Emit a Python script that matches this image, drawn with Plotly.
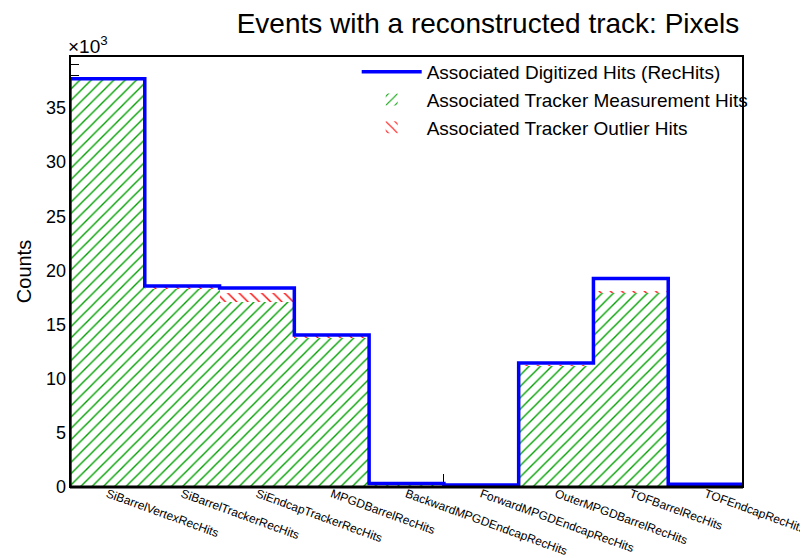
import plotly.graph_objects as go

# ---- data ----
categories = [
    "SiBarrelVertexRecHits",
    "SiBarrelTrackerRecHits",
    "SiEndcapTrackerRecHits",
    "MPGDBarrelRecHits",
    "BackwardMPGDEndcapRecHits",
    "ForwardMPGDEndcapRecHits",
    "OuterMPGDBarrelRecHits",
    "TOFBarrelRecHits",
    "TOFEndcapRecHits",
]
digitized_hits = [37700, 18560, 18370, 14030, 320, 180, 11450, 19250, 250]
measurement_hits = [37600, 18300, 17080, 13800, 250, 120, 11200, 18000, 0]
outlier_hits = [50, 100, 830, 100, 0, 0, 20, 50, 0]
y_tick_values = [0, 5000, 10000, 15000, 20000, 25000, 30000, 35000]
y_tick_labels = ["0", "5", "10", "15", "20", "25", "30", "35"]

FONT = "Liberation Sans, Arial, Helvetica, sans-serif"
BLUE = "#0000ff"
GREEN = "#00a000"
RED = "#ff0000"

n = len(categories)
centers = list(range(n))
edges = [i - 0.5 for i in range(n + 1)]

# step outline of the digitized-hits histogram
step_x = [edges[0]] + edges[:-1] + [edges[-1]]
step_y = [0] + digitized_hits + [0]

fig = go.Figure()

fig.add_trace(go.Bar(
    x=centers, y=measurement_hits, width=1.0,
    name="Associated Tracker Measurement Hits",
    marker=dict(color="white", line=dict(width=0),
                pattern=dict(shape="/", fgcolor=GREEN, bgcolor="white",
                             size=8, solidity=0.17, fillmode="replace")),
    legendrank=2,
))
fig.add_trace(go.Bar(
    x=centers, y=outlier_hits, width=1.0,
    name="Associated Tracker Outlier Hits",
    marker=dict(color="white", line=dict(width=0),
                pattern=dict(shape="\\", fgcolor=RED, bgcolor="white",
                             size=8, solidity=0.17, fillmode="replace")),
    legendrank=3,
))
fig.add_trace(go.Scatter(
    x=step_x, y=step_y, mode="lines", line_shape="hv",
    line=dict(color=BLUE, width=3.5),
    name="Associated Digitized Hits (RecHits)",
    legendrank=1,
))

# the page body adds an 8px offset; margins compensate for it
fig.update_layout(
    width=808, height=558,
    margin=dict(l=62, r=73, t=48, b=79, autoexpand=False),
    paper_bgcolor="white", plot_bgcolor="white",
    barmode="stack", bargap=0,
    font=dict(family=FONT, color="black", size=18),
    title=dict(text="Events with a reconstructed track: Pixels",
               x=480 / 808, xanchor="center", xref="container",
               y=1 - 15 / 558, yanchor="middle", yref="container",
               font=dict(size=28, family=FONT, color="black")),
    legend=dict(x=0.426, xanchor="left", y=1.007, yanchor="top",
                bgcolor="rgba(0,0,0,0)", borderwidth=0,
                traceorder="normal", itemwidth=60,
                font=dict(size=19, family=FONT, color="black")),
    showlegend=True,
)

fig.update_xaxes(
    range=[edges[0], edges[-1]], automargin=False,
    tickmode="array", tickvals=centers, ticktext=categories,
    tickangle=20, tickfont=dict(size=12, family=FONT, color="black"),
    ticklabelstandoff=-3,
    ticks="", showgrid=False, zeroline=False, showline=False,
    layer="below traces",
    minor=dict(tickmode="array", tickvals=edges, ticks="inside",
               ticklen=13, tickwidth=1, tickcolor="black", showgrid=False),
)
fig.update_yaxes(
    range=[0, 39800], automargin=False,
    tickmode="array", tickvals=y_tick_values, ticktext=y_tick_labels,
    tickfont=dict(size=18, family=FONT, color="black"),
    ticks="inside", ticklen=18, tickwidth=1, tickcolor="black",
    ticklabelstandoff=3,
    showgrid=False, zeroline=False, showline=False,
    layer="below traces",
    minor=dict(dtick=1000, tick0=0, ticks="inside", ticklen=9,
               tickwidth=1, tickcolor="black", showgrid=False),
    title=dict(text="Counts", standoff=8,
               font=dict(size=20, family=FONT, color="black")),
)

# frame
fig.add_shape(type="rect", xref="paper", yref="paper",
              x0=0, x1=1, y0=0, y1=1,
              line=dict(color="black", width=2), layer="above")
fig.add_shape(type="line", xref="paper", yref="paper",
              x0=0, x1=1, y0=0, y1=0,
              line=dict(color="black", width=3), layer="above")

# exponent label
fig.add_annotation(text="\u00d710<sup>3</sup>", xref="paper", yref="paper",
                   x=0, y=1, xanchor="left", yanchor="bottom",
                   xshift=-4, yshift=-3, showarrow=False,
                   font=dict(size=19, family=FONT, color="black"))

fig.write_html("out.html")
